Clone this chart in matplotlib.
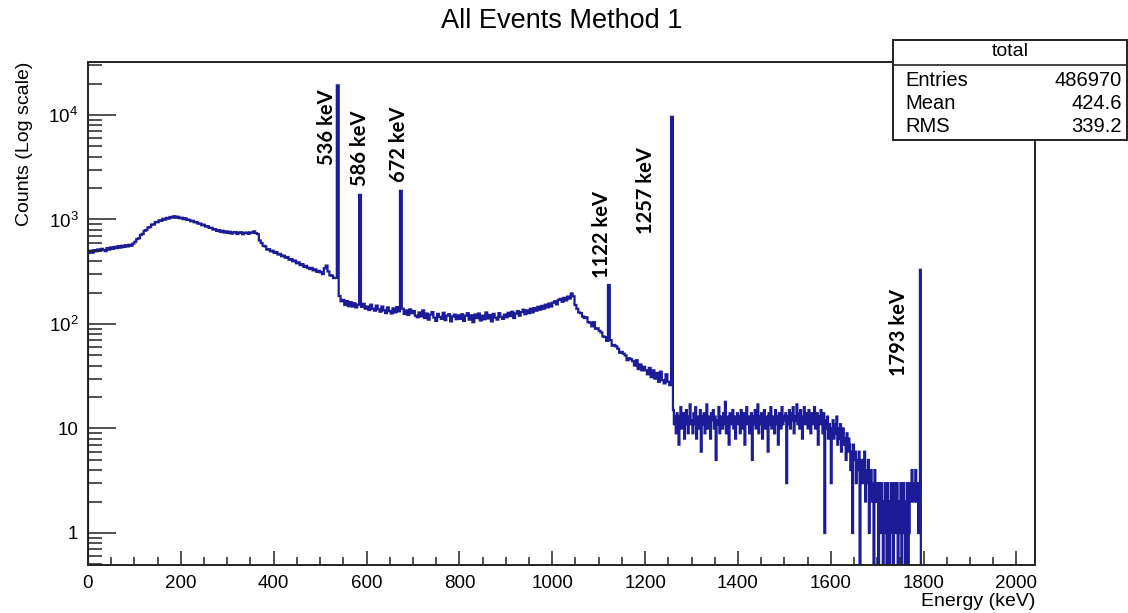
"""
Spectre energie (tous les evenements, methode 1) en echelle log.
"""

import numpy as np
import matplotlib
matplotlib.use("Agg")
from matplotlib import pyplot as plt
from matplotlib.ticker import MultipleLocator, LogLocator, FixedLocator, FixedFormatter, NullFormatter
from matplotlib.patches import Rectangle

# canaux de 4 keV de 0 a 1260 keV, une ligne = 100 keV
counts_low = [
    478, 502, 481, 509, 496, 517, 503, 524, 511, 498, 533, 515, 541, 524, 547, 532, 556, 538, 561, 545, 567, 552, 573, 560, 588,
    612, 650, 661, 712, 728, 779, 792, 838, 846, 896, 893, 945, 940, 982, 970, 1015, 996, 1036, 1018, 1058, 1042, 1075, 1040, 1062, 1028,
    1040, 1008, 1029, 990, 995, 962, 972, 939, 946, 912, 915, 880, 892, 855, 862, 830, 834, 801, 810, 778, 790, 760, 781, 750, 770,
    742, 762, 733, 751, 758, 726, 747, 755, 722, 744, 750, 728, 752, 745, 770, 741, 725, 630, 596, 560, 552, 515, 520, 496, 503,
    480, 488, 462, 468, 445, 451, 430, 438, 412, 418, 398, 405, 381, 389, 366, 374, 352, 360, 345, 336, 344, 326, 333, 315, 322,
    312, 300, 342, 362, 318, 292, 290, 275, 276, 19200, 185, 165, 170, 152, 166, 148, 162, 147, 158, 144, 153, 1720, 146, 156, 140,
    147, 136, 153, 140, 134, 150, 138, 131, 147, 135, 127, 144, 133, 126, 141, 129, 145, 132, 1880, 140, 125, 135, 122, 138, 127,
    133, 120, 116, 129, 118, 135, 114, 126, 110, 123, 130, 115, 107, 125, 117, 112, 128, 109, 120, 124, 106, 118, 123, 111, 121,
    112, 124, 107, 120, 127, 110, 121, 104, 123, 114, 126, 108, 120, 111, 129, 113, 122, 106, 125, 115, 110, 127, 117, 112, 123,
    116, 128, 119, 131, 114, 126, 133, 120, 130, 137, 124, 135, 127, 140, 129, 142, 134, 146, 137, 149, 140, 153, 144, 157, 147,
    160, 165, 154, 170, 174, 163, 178, 168, 183, 175, 196, 184, 152, 140, 129, 127, 118, 114, 116, 104, 103, 95, 104, 90, 91,
    86, 83, 76, 75, 69, 236, 70, 62, 63, 61, 58, 53, 54, 52, 50, 45, 47, 46, 44, 40, 45, 37, 41, 36, 39,
    36, 33, 38, 31, 36, 30, 34, 28, 35, 29, 27, 33, 28, 26, 9600,
]

# canaux de 2 keV de 1260 a 1800 keV
counts_high = [
    15, 11, 13, 9, 14, 12, 7, 13, 16, 10, 12, 14, 8, 11, 15, 13, 9, 12, 17, 11,
    12, 9, 14, 11, 16, 8, 13, 12, 10, 15, 6, 13, 11, 14, 9, 12, 17, 10, 13, 11, 8, 14, 12, 15, 10, 13, 5, 12, 11, 16,
    9, 13, 12, 10, 14, 11, 18, 9, 12, 13, 7, 14, 11, 12, 15, 10, 13, 8, 12, 14,
    11, 13, 9, 15, 12, 10, 14, 7, 12, 16, 11, 13, 9, 12, 14, 5, 13, 11, 15, 10, 12, 17, 9, 13, 11, 14, 8, 12, 15, 10,
    13, 12, 6, 14, 11, 16, 10, 13, 12, 9, 15, 11, 13, 7, 14, 12, 10, 16, 11, 13,
    12, 14, 3, 13, 11, 15, 10, 14, 12, 16, 9, 13, 12, 17, 11, 14, 10, 15, 13, 8, 12, 16, 11, 14, 13, 10, 15, 12, 9, 14,
    13, 11, 16, 10, 12, 14, 7, 13, 11, 15, 12, 9, 14, 1, 12, 10, 13, 8, 11, 9,
    3, 10, 12, 8, 11, 9, 13, 7, 10, 8, 11, 6, 9, 10, 7, 8, 5, 9, 6, 8, 7, 4, 6, 1, 7, 5, 6, 3, 5, 4,
    6, 0, 4, 5, 3, 4, 6, 2, 4, 3, 5, 1, 3, 4, 2, 3, 0, 4, 2, 3,
    2, 0, 3, 1, 3, 2, 0, 2, 3, 1, 0, 3, 2, 0, 1, 3, 2, 0, 3, 1, 2, 3, 0, 2, 1, 3, 0, 2, 3, 1,
    0, 2, 3, 0, 1, 3, 2, 4, 3, 2, 3, 4, 2, 3, 1, 3, 330, 0, 0, 0,
]

peak_labels = ["536 keV", "586 keV", "672 keV", "1122 keV", "1257 keV", "1793 keV"]
stat_names = ["Entries", "Mean", "RMS"]
stat_values = ["486970", "424.6", "339.2"]

# position des etiquettes (energie, comptes)
label_xy = [(514, 7590), (587, 4780), (671, 5220), (1108, 718), (1201, 1895), (1746, 83)]

plt.rcParams["font.family"] = ["Liberation Sans", "DejaVu Sans"]

fig = plt.figure(figsize=(11.28, 6.13), dpi=100)
ax = fig.add_axes([0.078, 0.0783, 0.8396, 0.8206])

counts = np.array(counts_low + counts_high, dtype=float)
edges = np.concatenate([np.arange(0, 1260, 4), np.arange(1260, 1801, 2)])
ax.stairs(np.where(counts > 0, counts, 1e-3), edges, color="#1c1c98", lw=1.6)

ax.set_yscale("log")
ax.set_xlim(0, 2040)
ax.set_ylim(0.494, 32150)

ax.xaxis.set_major_locator(MultipleLocator(200))
ax.xaxis.set_minor_locator(MultipleLocator(50))
ax.yaxis.set_major_locator(FixedLocator([1, 10, 100, 1000, 10000]))
ax.yaxis.set_major_formatter(FixedFormatter(["1", "10", r"$\mathdefault{10^{2}}$",
                                             r"$\mathdefault{10^{3}}$", r"$\mathdefault{10^{4}}$"]))
ax.yaxis.set_minor_locator(LogLocator(base=10, subs=np.arange(2, 10)))
ax.yaxis.set_minor_formatter(NullFormatter())

ax.tick_params(axis="both", which="both", direction="in", top=False, right=False,
               labelsize=13.5, width=1.1, color="#222222")
ax.tick_params(axis="x", which="major", length=10, pad=7)
ax.tick_params(axis="x", which="minor", length=5.5)
ax.tick_params(axis="y", which="major", length=20, pad=7)
ax.tick_params(axis="y", which="minor", length=10)
for s in ax.spines.values():
    s.set_linewidth(1.4)
    s.set_color("#222222")

ax.set_xlabel("Energy (keV)", fontsize=14, loc="right")
ax.xaxis.set_label_coords(1.0, -0.056)
ax.set_ylabel("Counts (Log scale)", fontsize=14, loc="top")
ax.yaxis.set_label_coords(-0.058, 1.0)

for (xe, yc), lab in zip(label_xy, peak_labels):
    ax.text(xe, yc, lab, rotation=90, ha="center", va="center", fontsize=14.5,
            family=["Lato", "DejaVu Sans"], fontweight="bold")

fig.text(0.498, 1 - 21 / 613, "All Events Method 1", ha="center", va="center", fontsize=19.5)

# boite de statistiques
W, H = 1128, 613
fig.patches.append(Rectangle((893 / W, 1 - 140 / H), (1127 - 893) / W, 100 / H,
                             transform=fig.transFigure, facecolor="white",
                             edgecolor="#222222", lw=1.4, zorder=5))
fig.add_artist(plt.Line2D([893 / W, 1127 / W], [1 - 65 / H, 1 - 65 / H],
                          transform=fig.transFigure, color="#222222", lw=1.2, zorder=6))
fig.text(1010 / W, 1 - 52 / H, "total", ha="center", va="center", fontsize=14, zorder=7)
for i, (n, v) in enumerate(zip(stat_names, stat_values)):
    yy = 1 - (80 + i * 23.5) / H
    fig.text(905 / W, yy, n, ha="left", va="center", fontsize=14.5, zorder=7)
    fig.text(1122 / W, yy, v, ha="right", va="center", fontsize=14.5, zorder=7)

plt.savefig("out.png", dpi=100)
plt.close()
